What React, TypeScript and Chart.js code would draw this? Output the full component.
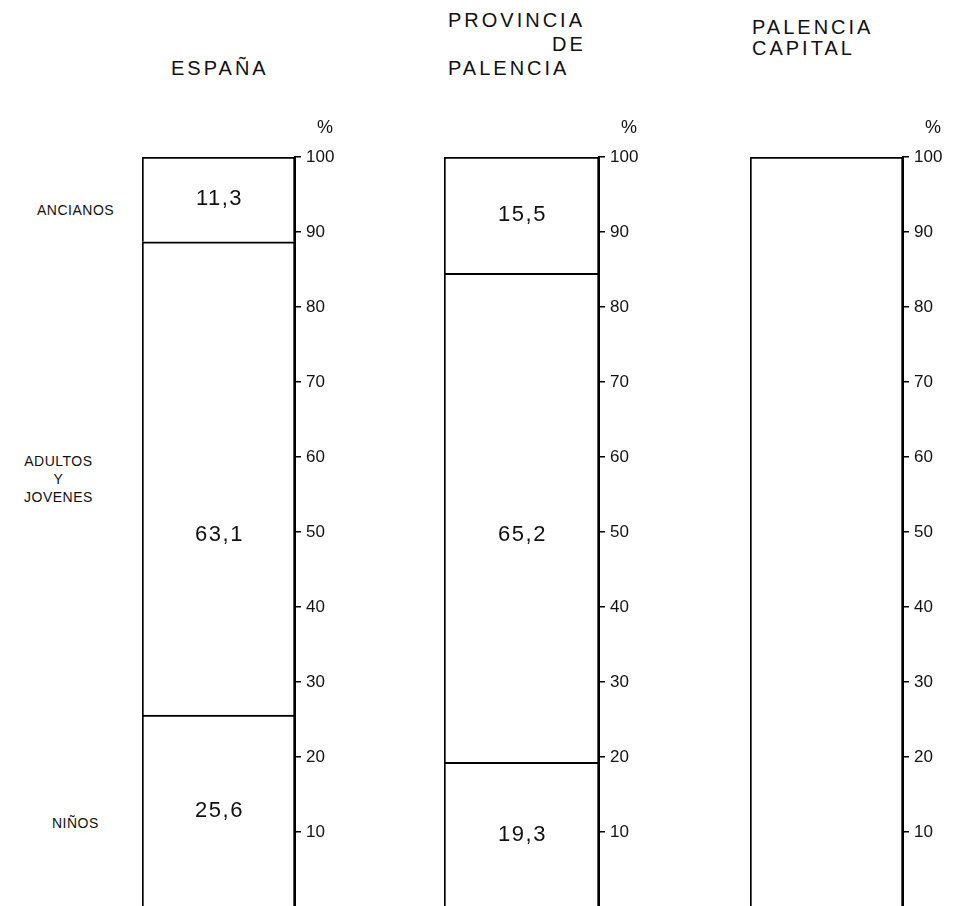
import React, { useEffect, useRef } from 'react';
import { Chart, registerables } from 'chart.js';

Chart.register(...registerables);

// ---- data ----
const categories = ['ESPAÑA', 'PROVINCIA DE PALENCIA', 'PALENCIA CAPITAL'];
const groups = ['NIÑOS', 'ADULTOS Y JOVENES', 'ANCIANOS'];
const ninos: (number | null)[] = [25.6, 19.3, null];
const adultos: (number | null)[] = [63.1, 65.2, null];
const ancianos: (number | null)[] = [11.3, 15.5, null];
const sinDatos: (number | null)[] = [null, null, 100];
const yTickValues = [10, 20, 30, 40, 50, 60, 70, 80, 90, 100];

const FONT = '"Liberation Sans", Arial, Helvetica, sans-serif';

const valueLabelPlugin = {
  id: 'valueLabels',
  afterDatasetsDraw(chart: any) {
    const ctx = chart.ctx;
    const yScale = chart.scales.y;
    ctx.save();
    ctx.fillStyle = '#111';
    ctx.font = `22px ${FONT}`;
    (ctx as any).letterSpacing = '1.5px';
    ctx.textAlign = 'center';
    ctx.textBaseline = 'middle';
    chart.data.datasets.forEach((ds: any, di: number) => {
      if (!ds.showValue) return;
      const meta = chart.getDatasetMeta(di);
      meta.data.forEach((el: any, i: number) => {
        const v = ds.data[i];
        if (v === null || v === undefined) return;
        const y = ds.labelAt !== undefined ? yScale.getPixelForValue(ds.labelAt) : (el.y + el.base) / 2;
        const txt = v.toFixed(1).replace('.', ',');
        ctx.fillText(txt, el.x + 1, y);
      });
    });
    // percent sign above the axis
    const ca = chart.chartArea;
    ctx.font = `18px ${FONT}`;
    (ctx as any).letterSpacing = '0px';
    ctx.textAlign = 'center';
    ctx.textBaseline = 'alphabetic';
    ctx.fillText('%', ca.right + 30, ca.top - 24);
    ctx.restore();
  },
};

function makeConfig(i: number): any {
  const seg = (label: string, arr: (number | null)[], extra: any = {}) => ({
    label,
    data: [arr[i]],
    backgroundColor: '#ffffff',
    borderColor: '#000000',
    borderWidth: 2,
    borderSkipped: 'bottom',
    showValue: true,
    ...extra,
  });
  return {
    type: 'bar',
    data: {
      labels: [categories[i]],
      datasets: [
        seg(groups[0], ninos),
        seg(groups[1], adultos, { labelAt: 49.6 }),
        seg(groups[2], ancianos),
        seg('SIN DATOS', sinDatos, { showValue: false }),
      ],
    },
    options: {
      responsive: false,
      animation: false,
      layout: { padding: { top: 157, bottom: 0, left: 0, right: 0 } },
      plugins: { legend: { display: false }, tooltip: { enabled: false }, title: { display: false } },
      datasets: { bar: { categoryPercentage: 1, barPercentage: 1 } },
      scales: {
        x: { stacked: true, display: false },
        y: {
          stacked: true,
          position: 'right',
          min: 0,
          max: 100,
          afterFit: (s: any) => {
            s.width = 60;
            s.paddingTop = 0;
            s.paddingBottom = 0;
          },
          afterBuildTicks: (s: any) => { s.ticks = yTickValues.map((v) => ({ value: v })); },
          border: { display: true, color: '#000', width: 2 },
          grid: { drawOnChartArea: false, drawTicks: true, tickLength: 6, color: '#000', lineWidth: 1.5 },
          ticks: {
            padding: 5,
            color: '#111',
            font: { family: FONT, size: 17 },
            callback: (v: any) => String(v),
          },
        },
      },
    },
    plugins: [valueLabelPlugin],
  };
}

const barLefts = [142, 444, 750];
const barWidths = [153, 155, 153];

function BarCanvas({ index }: { index: number }) {
  const ref = useRef<HTMLCanvasElement | null>(null);
  useEffect(() => {
    if (!ref.current) return;
    const chart = new Chart(ref.current, makeConfig(index));
    return () => chart.destroy();
  }, [index]);
  const w = barWidths[index] + 60;
  return (
    <canvas
      ref={ref}
      width={w}
      height={907}
      style={{ position: 'absolute', left: barLefts[index], top: 0, width: w, height: 907 }}
    />
  );
}

const titleStyle: React.CSSProperties = {
  position: 'absolute',
  fontFamily: FONT,
  fontSize: 20,
  letterSpacing: '3px',
  color: '#111',
  whiteSpace: 'nowrap',
  margin: 0,
};

const rowStyle: React.CSSProperties = {
  position: 'absolute',
  fontFamily: FONT,
  fontSize: 14,
  letterSpacing: '0.5px',
  color: '#111',
  whiteSpace: 'nowrap',
  lineHeight: '18px',
};

export default function App() {
  return (
    <div style={{ position: 'absolute', left: 0, top: 0, width: 973, height: 906, overflow: 'hidden', background: '#fff' }}>
      <div style={{ ...titleStyle, left: 171, top: 56, lineHeight: '24px' }}>ESPAÑA</div>
      <div style={{ ...titleStyle, left: 448, top: 8, lineHeight: '24px' }}>
        <div>PROVINCIA</div>
        <div style={{ paddingLeft: 104 }}>DE</div>
        <div>PALENCIA</div>
      </div>
      <div style={{ ...titleStyle, left: 752, top: 17, lineHeight: '21px' }}>
        <div>PALENCIA</div>
        <div>CAPITAL</div>
      </div>

      <div style={{ ...rowStyle, left: 37, top: 201 }}>{groups[2]}</div>
      <div style={{ ...rowStyle, left: 24, top: 452, textAlign: 'center' }}>
        <div>ADULTOS</div>
        <div>Y</div>
        <div>JOVENES</div>
      </div>
      <div style={{ ...rowStyle, left: 52, top: 814 }}>{groups[0]}</div>

      {categories.map((_, i) => (
        <BarCanvas key={i} index={i} />
      ))}
    </div>
  );
}
